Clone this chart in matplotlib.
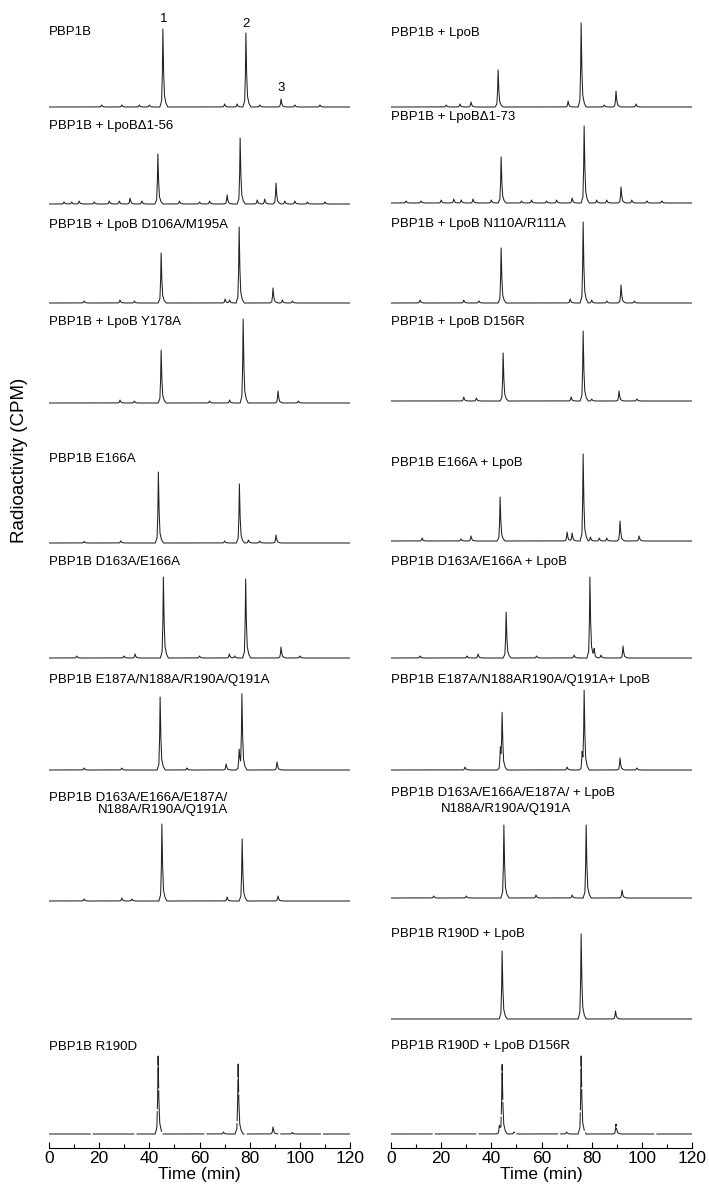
'''
HPLC radioactivity traces, PBP1B +/- LpoB variants (two columns of stacked chromatograms)
'''

import numpy as np
import matplotlib.pyplot as plt

plt.rcParams['font.family'] = ['Liberation Sans', 'DejaVu Sans']

# ---- data ----
# each trace: (time in min, peak height) of the visible peaks / bumps
LEFT_LABELS = [
    "PBP1B",
    "PBP1B + LpoB\u03941-56",
    "PBP1B + LpoB D106A/M195A",
    "PBP1B + LpoB Y178A",
    "PBP1B E166A",
    "PBP1B D163A/E166A",
    "PBP1B E187A/N188A/R190A/Q191A",
    "PBP1B D163A/E166A/E187A/",
    "PBP1B R190D",
]
LEFT_PEAKS = [
    [(45.4, 78), (78.5, 74), (92.5, 8), (21, 2), (29, 2), (36, 2), (40, 2), (70, 3),
     (75, 3), (84, 2), (98, 2), (108, 2)],
    [(43.4, 50), (76.2, 66), (90.5, 21), (32.3, 6), (71, 9), (28, 3), (24, 3), (18, 2),
     (12, 3), (9, 2), (52, 3), (60, 2), (64, 3), (83, 4), (86, 5), (94, 3), (98, 3),
     (103, 2), (110, 2), (6, 2), (37, 3)],
    [(44.7, 50), (75.8, 76), (89.3, 15), (28.3, 3), (70.2, 4), (72, 3), (93, 3), (97, 2),
     (34, 2), (14, 2)],
    [(44.7, 53), (77.4, 84), (91.3, 12), (28.3, 3), (72, 3), (99.4, 2), (34, 2), (64, 2)],
    [(43.6, 71), (75.9, 59), (90.5, 8), (28.6, 2), (79.5, 3), (84, 2), (70, 2), (14, 1.5)],
    [(45.6, 81), (78.4, 79), (92.5, 11), (34.3, 4), (29.9, 2), (11, 2), (71.9, 4), (74, 2),
     (60, 2), (100, 2)],
    [(44.3, 73), (76.9, 75), (75.8, 20), (90.9, 8), (70.6, 6), (29, 2), (14, 2), (55, 2)],
    [(45, 77), (77, 62), (91.3, 5), (71, 4), (29, 3), (14, 2), (33, 2)],
    [(43.5, 78), (75.4, 70), (89.3, 7), (69.5, 2), (97, 1.5)],
]

RIGHT_LABELS = [
    "PBP1B + LpoB",
    "PBP1B + LpoB\u03941-73",
    "PBP1B + LpoB N110A/R111A",
    "PBP1B + LpoB D156R",
    "PBP1B E166A + LpoB",
    "PBP1B D163A/E166A + LpoB",
    "PBP1B E187A/N188AR190A/Q191A+ LpoB",
    "PBP1B D163A/E166A/E187A/ + LpoB",
    "PBP1B R190D + LpoB",
    "PBP1B R190D + LpoB D156R",
]
RIGHT_PEAKS = [
    [(42.7, 37), (75.8, 84), (89.7, 16), (70.6, 6), (31.9, 5), (27.5, 3), (97.7, 3),
     (22, 2), (85, 2)],
    [(43.9, 46), (77, 77), (91.7, 16), (72.2, 5), (32.7, 4), (25, 4), (28, 3), (20, 3),
     (12, 2), (6, 2), (40, 3), (52, 2), (56, 3), (62, 2), (66, 3), (82, 3), (86, 3),
     (96, 3), (102, 2), (108, 2)],
    [(43.9, 55), (76.6, 81), (91.7, 18), (71.4, 4), (29, 3), (11.6, 3), (80, 3), (86, 2),
     (97, 2), (35, 2)],
    [(44.7, 48), (76.6, 70), (90.9, 10), (29, 4), (34, 3), (71.8, 4), (98, 2), (80, 2)],
    [(43.5, 44), (76.6, 87), (91.3, 20), (70.2, 9), (72.2, 8), (31.9, 5), (98.9, 5),
     (12.4, 3), (27.9, 2), (79.5, 4), (83, 3), (86, 3)],
    [(45.9, 46), (79.3, 81), (92.5, 12), (73, 3), (34.7, 4), (30.3, 2), (11.6, 2), (81, 8),
     (83.7, 3), (58, 2)],
    [(44.3, 55), (43.6, 20), (77, 78), (76.2, 15), (91.3, 12), (29.5, 3), (70.2, 3), (98, 2)],
    [(45, 73), (77.8, 73), (92.1, 8), (57.8, 3), (72.2, 3), (30, 2), (17, 2)],
    [(44.3, 68), (75.8, 85), (89.5, 8)],
    [(44.3, 69), (43.2, 8), (75.8, 78), (89.7, 10), (70, 2), (49, 2)],
]

SUBLABEL = "N188A/R190A/Q191A"
PEAK_NUMBERS = ["1", "2", "3"]
XTICKS = [0, 20, 40, 60, 80, 100, 120]

# ---- layout (px above the time axis line) ----
LEFT_BASE = [1041, 944, 845, 745, 605, 490, 378, 247, 14]
LEFT_TEXT = [1116, 1022, 923, 826, 689, 586, 468, 350, 101]
RIGHT_BASE = [1041, 945, 845, 747, 607, 490, 378, 250, 129, 14]
RIGHT_TEXT = [1115, 1031, 924, 826, 685, 586, 468, 355, 214, 102]
SUB_TEXT = {"L": 338, "R": 339}
NUM_POS = [(45.9, 1129), (78.5, 1124), (92.5, 1060)]
DASHED = {("L", 8), ("R", 9)}

# peak shape used to draw each (time, height) pair
SHAPE_DT = np.array([-1.2, -0.5, -0.2, 0.0, 0.25, 0.6, 1.2, 2.0])
SHAPE_FR = np.array([0.0, 0.08, 0.45, 1.0, 0.5, 0.15, 0.05, 0.0])
t = np.arange(0, 120.05, 0.05)


def trace(peaks):
    y = np.zeros_like(t)
    for tp, h in peaks:
        y += np.interp(t, tp + SHAPE_DT, h * SHAPE_FR, left=0, right=0)
    return y


def draw_column(ax, side, labels, peaks_list, bases, texts):
    for i, (lab, pk, b, ty) in enumerate(zip(labels, peaks_list, bases, texts)):
        ls = (0, (40, 2)) if (side, i) in DASHED else "-"
        ax.plot(t, b + trace(pk), color="#222222", lw=0.75, ls=ls)
        ax.text(0, ty, lab, fontsize=9.5, va="center", ha="left")
    ax.set_xlim(0, 120)
    ax.set_ylim(0, 1148)
    for s in ["top", "left", "right"]:
        ax.spines[s].set_visible(False)
    ax.spines["bottom"].set_linewidth(0.8)
    ax.set_yticks([])
    ax.set_xticks(XTICKS)
    ax.set_xticks(np.arange(10, 120, 20), minor=True)
    ax.tick_params(axis="x", which="major", direction="in", length=4, width=0.8,
                   labelsize=12.5, pad=2)
    ax.tick_params(axis="x", which="minor", direction="in", length=3, width=0.8)
    ax.set_xlabel("Time (min)", fontsize=12.5, labelpad=1)
    ax.patch.set_alpha(0)


def main():
    W, H = 709, 1192
    fig = plt.figure(figsize=(W / 100, H / 100), dpi=100)
    ax_l = fig.add_axes([49 / W, 44 / H, 301 / W, 1148 / H])
    ax_r = fig.add_axes([391 / W, 44 / H, 301 / W, 1148 / H])

    draw_column(ax_l, "L", LEFT_LABELS, LEFT_PEAKS, LEFT_BASE, LEFT_TEXT)
    draw_column(ax_r, "R", RIGHT_LABELS, RIGHT_PEAKS, RIGHT_BASE, RIGHT_TEXT)

    ax_l.text(19.3, SUB_TEXT["L"], SUBLABEL, fontsize=9.5, va="center", ha="left")
    ax_r.text(19.7, SUB_TEXT["R"], SUBLABEL, fontsize=9.5, va="center", ha="left")

    for (x, y), n in zip(NUM_POS, PEAK_NUMBERS):
        ax_l.text(x, y, n, fontsize=9.5, ha="center", va="center")

    fig.text(20 / W, 1 - 460 / H, "Radioactivity (CPM)", rotation=90,
             fontsize=13.5, ha="center", va="center")

    fig.savefig("out.png", dpi=100)


if __name__ == "__main__":
    main()
